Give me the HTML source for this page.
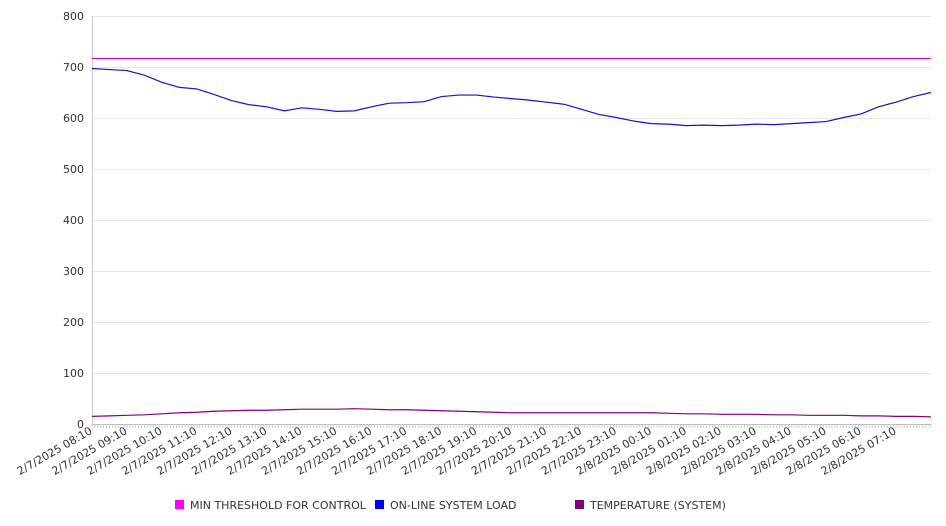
<!DOCTYPE html>
<html><head><meta charset="utf-8"><style>
body{margin:0;background:#fff}
svg{display:block;font-family:"DejaVu Sans","Liberation Sans",sans-serif}
</style></head><body>
<svg id="chart" width="946" height="526"></svg>
<script>
const xLabels=["2/7/2025 08:10","2/7/2025 09:10","2/7/2025 10:10","2/7/2025 11:10","2/7/2025 12:10","2/7/2025 13:10","2/7/2025 14:10","2/7/2025 15:10","2/7/2025 16:10","2/7/2025 17:10","2/7/2025 18:10","2/7/2025 19:10","2/7/2025 20:10","2/7/2025 21:10","2/7/2025 22:10","2/7/2025 23:10","2/8/2025 00:10","2/8/2025 01:10","2/8/2025 02:10","2/8/2025 03:10","2/8/2025 04:10","2/8/2025 05:10","2/8/2025 06:10","2/8/2025 07:10"];
const yTicks=[0,100,200,300,400,500,600,700,800];
const thresholdValue=718;
const loadValues=[697,695,693,684,670,660,657,646,634,626,622,614,620,617,613,614,622,629,630,632,642,645,645,641,638,635,631,627,617,607,601,594,589,588,585,586,585,586,588,587,589,591,593,601,608,622,631,642,650];
const tempValues=[15,16,17,18,20,22,23,25,26,27,27,28,29,29,29,30,29,28,28,27,26,25,24,23,22,22,22,22,22,22,22,22,22,21,20,20,19,19,19,18,18,17,17,17,16,16,15,15,14];
const NS="http://www.w3.org/2000/svg";
const svg=document.getElementById('chart');
const X0=92,X1=931,Y0=424,Y1=16,HOURS=24;
function xs(h){return X0+(X1-X0)*h/HOURS;}
function ys(v){return Y0-(Y0-Y1)*v/800;}
function mk(t,a,p){const e=document.createElementNS(NS,t);for(const k in a)e.setAttribute(k,a[k]);(p||svg).appendChild(e);return e;}
yTicks.forEach(v=>{
  const yy=Math.round(ys(v))+0.5;
  const g=mk('line',{x1:X0,x2:X1,y1:yy,y2:yy,stroke:v===0?'#bbb':'#e6e6e6','stroke-width':1});
  
  
  const t=mk('text',{x:84,y:ys(v)+4,'text-anchor':'end','font-size':11,fill:'#333'});
  t.textContent=v;
  
  
});
const ax=mk('line',{x1:X0+0.5,x2:X0+0.5,y1:Y1,y2:Y0,stroke:'#ccc'});


for(let m=0;m<=HOURS*60;m+=5){
  const l=mk('line',{x1:xs(m/60),x2:xs(m/60),y1:Y0,y2:Y0+4,stroke:'#ccc'});
  
  
}
xLabels.forEach((s,i)=>{
  const x=xs(i)+1,y=433;
  const t=mk('text',{x:x,y:y,'text-anchor':'end','font-size':11,fill:'#333',transform:`rotate(-30 ${x} ${y})`});
  t.textContent=s;
  
  
});
function series(vals,color,name){
  const step=HOURS/(vals.length-1);
  const p=mk('polyline',{points:vals.map((v,i)=>xs(i*step)+','+ys(v)).join(' '),fill:'none',stroke:color,'stroke-width':1.2});
  
  
}
const ty=Math.round(ys(thresholdValue))+0.5;
const th=mk('line',{x1:X0,x2:X1,y1:ty,y2:ty,stroke:'#cc00cc','stroke-width':1});


series(loadValues,'#1414c8','system-load-line');
series(tempValues,'#800080','temperature-line');
const legend=[["MIN THRESHOLD FOR CONTROL","#ff00ff",175],["ON-LINE SYSTEM LOAD","#0000ff",375],["TEMPERATURE (SYSTEM)","#800080",575]];
legend.forEach(([txt,c,x])=>{
  const g=mk('g',{});
  
  
  mk('rect',{x:x,y:500,width:9,height:9,fill:c},g);
  const t=mk('text',{x:x+15,y:509,'font-size':11,fill:'#333'},g);
  t.textContent=txt;
});
</script>
</body></html>
